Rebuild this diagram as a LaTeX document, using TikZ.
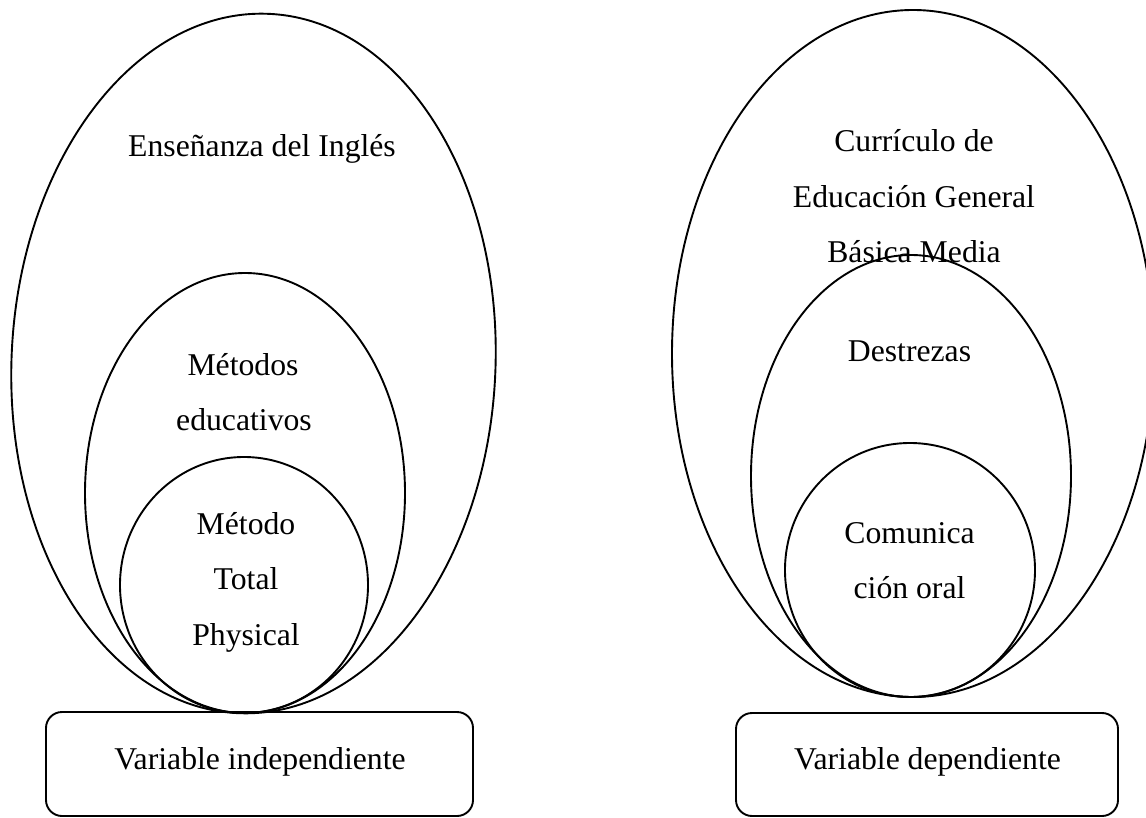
\documentclass[tikz,border=0pt]{standalone}
\usepackage{fontspec}
\setmainfont{Liberation Serif}
\usetikzlibrary{shapes.geometric}
\begin{document}
\begin{tikzpicture}[x=1pt,y=-1pt,
  ell/.style={ellipse, draw, line width=1.9pt, inner sep=0pt, outer sep=0pt},
  varbox/.style={rectangle, draw, line width=1.9pt, rounded corners=16pt, inner sep=0pt},
  lbl/.style={anchor=base, inner sep=0pt, font=\fontsize{31.7pt}{38pt}\selectfont}]
\clip (0,0) rectangle (1146,818);
% left diagram
\node[ell, minimum width=484pt, minimum height=700pt, rotate=-2.5] (bigL) at (253.5,363.5) {};
\node[ell, minimum width=320pt, minimum height=440pt] (midL) at (245,493) {};
\node[ell, minimum width=248pt, minimum height=256pt] (smlL) at (244,585) {};
\node[varbox, minimum width=427pt, minimum height=104pt] (boxL) at (259.5,764) {};
\node[lbl] (tEns) at (262,157) {Enseñanza del Inglés};
\node[lbl] (tMet1) at (243,375) {Métodos};
\node[lbl] (tMet2) at (244,430.5) {educativos};
\node[lbl] (tTPR1) at (246,534) {Método};
\node[lbl] (tTPR2) at (246,589.5) {Total};
\node[lbl] (tTPR3) at (246,645) {Physical};
\node[lbl] (tVI) at (260,769) {Variable independiente};
% right diagram
\node[ell, minimum width=482pt, minimum height=687pt] (bigR) at (913,353.5) {};
\node[ell, minimum width=320pt, minimum height=442pt] (midR) at (911,476) {};
\node[ell, minimum width=250pt, minimum height=254pt] (smlR) at (910,570) {};
\node[varbox, minimum width=382pt, minimum height=103pt] (boxR) at (927,764.5) {};
\node[lbl] (tCur1) at (914,152) {Currículo de};
\node[lbl] (tCur2) at (914,207.5) {Educación General};
\node[lbl] (tCur3) at (914,263) {Básica Media};
\node[lbl] (tDes) at (909.5,362) {Destrezas};
\node[lbl] (tCom1) at (909.5,543) {Comunica};
\node[lbl] (tCom2) at (909.5,598.5) {ción oral};
\node[lbl] (tVD) at (927.5,769) {Variable dependiente};
\end{tikzpicture}
\end{document}
